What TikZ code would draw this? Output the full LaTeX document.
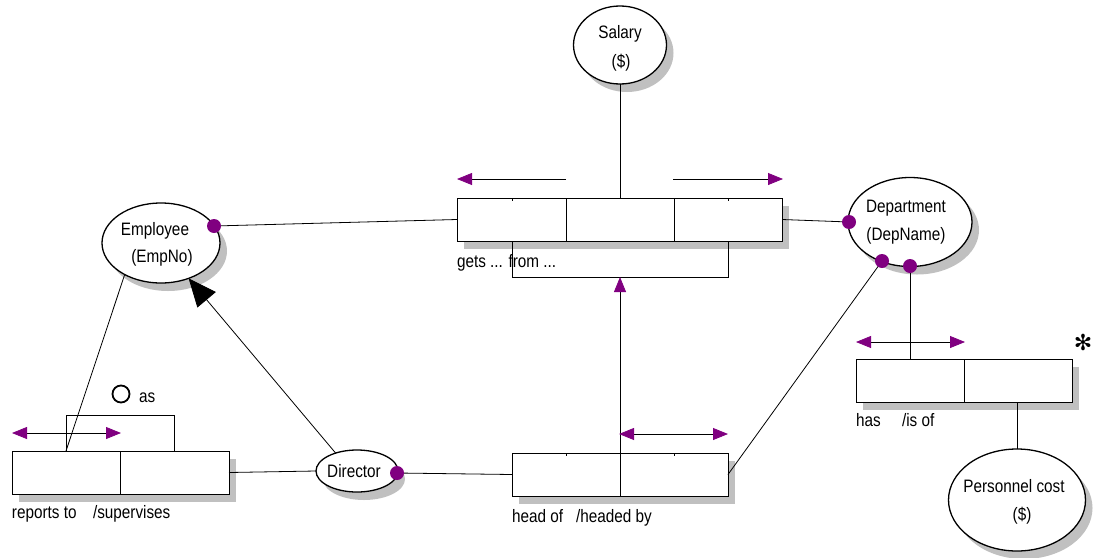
\documentclass[tikz,border=0pt]{standalone}
\usepackage{fontspec}
\setmainfont[FakeStretch=0.85]{Liberation Sans}
\newfontfamily\dejavu{DejaVu Sans}
\usetikzlibrary{arrows.meta,shapes.geometric,shadows}
\definecolor{dotpurple}{HTML}{800080}
\definecolor{shade}{HTML}{C0C0C0}
\begin{document}
\begin{tikzpicture}[x=1pt,y=-1pt,
  line width=0.8pt,
  every node/.style={inner sep=0pt, outer sep=0pt},
  txt/.style={font=\fontsize{18}{20}\selectfont, anchor=base},
  lbl/.style={font=\fontsize{18}{20}\selectfont, anchor=base west},
  shd/.style={drop shadow={shadow xshift=7pt,shadow yshift=-8pt,fill=shade,opacity=1}},
  ent/.style={ellipse, draw, fill=white, shd, line width=1.3pt},
  rbox/.style={rectangle, draw, fill=white, shd},
  dot/.style={circle, fill=dotpurple, minimum size=14pt},
  ptip/.tip={Triangle[length=15pt,width=12pt,color=dotpurple]},
  dbl/.style={ptip-ptip},
]
\useasboundingbox (0,0) rectangle (1099,557);

% ---------- entity ellipses ----------
\node[ent, minimum width=93pt, minimum height=78pt] (salary) at (620,45) {};
\node[txt] (salaryT1) at (620,38) {Salary};
\node[txt] (salaryT2) at (621,67) {(\$)};

\node[ent, minimum width=118pt, minimum height=80pt] (emp) at (161,243) {};
\node[txt] (empT1) at (155,235) {Employee};
\node[txt] (empT2) at (162,262) {(EmpNo)};

\node[ent, minimum width=124pt, minimum height=89pt] (dep) at (910,222) {};
\node[txt] (depT1) at (906,212) {Department};
\node[txt] (depT2) at (906,240) {(DepName)};

\node[ent, minimum width=82pt, minimum height=42pt] (dir) at (357,471) {};
\node[txt] (dirT) at (354,477) {Director};

\node[ent, minimum width=137pt, minimum height=102pt] (pcost) at (1017,500) {};
\node[txt] (pcostT1) at (1014,492) {Personnel cost};
\node[txt] (pcostT2) at (1022,520) {(\$)};

% ---------- fact boxes ----------
\node[rbox, minimum width=325pt, minimum height=43pt] (tern) at (619.5,219.5) {};
\node[rbox, minimum width=217pt, minimum height=43pt] (rep) at (120.5,472.5) {};
\node[rbox, minimum width=216pt, minimum height=43pt] (hof) at (620,474.5) {};
\node[rbox, minimum width=216pt, minimum height=43pt] (has) at (964,380.5) {};

% dividers
\draw (566,198) -- (566,241);
\draw (674,198) -- (674,241);
\draw (rep.north) -- (rep.south);
\draw (hof.north) -- (hof.south);
\draw (has.north) -- (has.south);
% ticks
\draw (512,198) -- (512,201);
\draw (728,198) -- (728,201);
\draw (566,453) -- (566,456);
\draw (674,453) -- (674,456);

% ---------- coordinates ----------
\coordinate (brL) at (512,241);
\coordinate (brLb) at (512,277);
\coordinate (brRb) at (728,277);
\coordinate (brR) at (728,241);
\coordinate (brMid) at (620,277);
\coordinate (rbL) at (66,451);
\coordinate (rbLt) at (66,415);
\coordinate (rbRt) at (174,415);
\coordinate (rbR) at (174,451);
\coordinate (empP) at (214,226);
\coordinate (depP1) at (849,222);
\coordinate (depP2) at (882,261);
\coordinate (depP3) at (910,266);
\coordinate (dirP) at (397,473);

% ---------- connectors ----------
\draw (salary.south) -- (salary.south |- tern.north);
\draw (brL) -- (brLb) -- (brRb) -- (brR);
\draw[-ptip] (hof.north) -- (brMid);
\draw (rbL) -- (rbLt) -- (rbRt) -- (rbR);
\draw (rbL) -- (emp.221);
\draw (rep.east) -- (dir.west);
\draw[-{Triangle[length=28pt,width=24pt]}] (dir.140) -- (emp.308);
\draw (empP) -- (tern.west);
\draw (tern.east) -- (depP1);
\draw (depP3) -- (depP3 |- has.north);
\draw (depP2) -- (hof.east);
\draw (dirP) -- (hof.west);
\draw (has.south -| pcost.north) -- (pcost.north);

% ---------- role dots ----------
\node[dot] (empdot) at (empP) {};
\node[dot] (depdot1) at (depP1) {};
\node[dot] (depdot2) at (depP2) {};
\node[dot] (depdot3) at (depP3) {};
\node[dot] (dirdot) at (dirP) {};

% ---------- role arrows ----------
\coordinate (tlA) at (566,179);
\coordinate (tlB) at (457,179);
\coordinate (trA) at (673,179);
\coordinate (trB) at (783,179);
\draw[-ptip] (tlA) -- (tlB);
\draw[-ptip] (trA) -- (trB);
\coordinate (raA) at (12,433);
\coordinate (raB) at (121,433);
\draw[dbl] (raA) -- (raB);
\coordinate (haA) at (619,434);
\coordinate (haB) at (728,434);
\draw[dbl] (haA) -- (haB);
\coordinate (hsA) at (856,342);
\coordinate (hsB) at (965,342);
\draw[dbl] (hsA) -- (hsB);

% ---------- labels ----------
\node[circle, draw, line width=1.8pt, minimum size=17pt] (asc) at (121,394) {};
\node[lbl] (asT) at (139,402) {as};
\node[lbl] (ternT) at (457,267) {gets ... from ...};
\node[lbl] (repT1) at (12,518) {reports to};
\node[lbl] (repT2) at (93,518) {/supervises};
\node[lbl] (hofT1) at (512,522) {head of};
\node[lbl] (hofT2) at (576,522) {/headed by};
\node[lbl] (hasT1) at (856,426) {has};
\node[lbl] (hasT2) at (902,426) {/is of};
\node[font=\dejavu\fontsize{22}{22}\selectfont] (star) at (1083,342) {✻};
\end{tikzpicture}
\end{document}
